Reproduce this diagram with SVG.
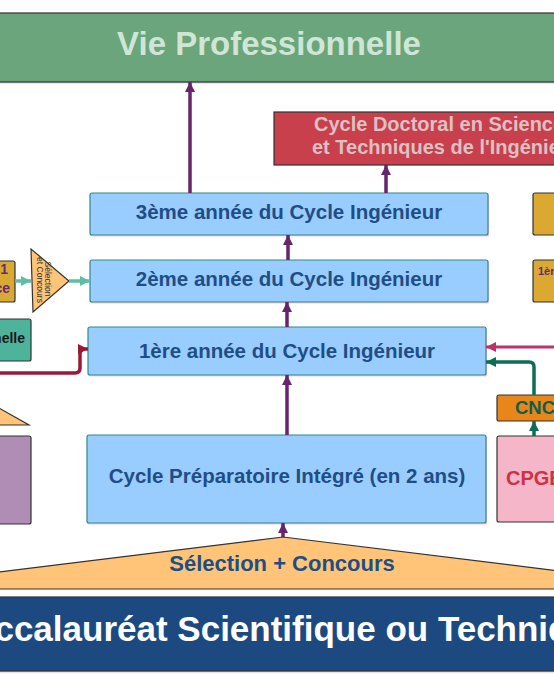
<svg xmlns="http://www.w3.org/2000/svg" width="554" height="674" viewBox="0 0 554 674">
<defs>
<style>
.t{font-family:"Liberation Sans",Arial,sans-serif;font-weight:bold}
.blue{fill:#99ccff;stroke:#2e8a87;stroke-width:1.2}
.shadow{fill:#eeaab2;opacity:.55}
.bt{fill:#1f4e85;font-size:20.5px;text-anchor:middle}
.edge{stroke:#333;stroke-width:1.2}
.pl{stroke:#66256b;stroke-width:3.5;fill:none}
</style>
<marker id="ap" viewBox="0 0 10 10" refX="10" refY="5" markerWidth="10" markerHeight="10" markerUnits="userSpaceOnUse" orient="auto"><path d="M0,0 L10,5 L0,10 z" fill="#66256b"/></marker>
<marker id="at" viewBox="0 0 10 10" refX="10" refY="5" markerWidth="10" markerHeight="10" markerUnits="userSpaceOnUse" orient="auto"><path d="M0,0 L10,5 L0,10 z" fill="#5bbfa6"/></marker>
<marker id="ar" viewBox="0 0 10 10" refX="10" refY="5" markerWidth="10" markerHeight="10" markerUnits="userSpaceOnUse" orient="auto"><path d="M0,0 L10,5 L0,10 z" fill="#9c1737"/></marker>
<marker id="ak" viewBox="0 0 10 10" refX="10" refY="5" markerWidth="10" markerHeight="10" markerUnits="userSpaceOnUse" orient="auto"><path d="M0,0 L10,5 L0,10 z" fill="#c0306b"/></marker>
<marker id="ag" viewBox="0 0 10 10" refX="10" refY="5" markerWidth="10" markerHeight="10" markerUnits="userSpaceOnUse" orient="auto"><path d="M0,0 L10,5 L0,10 z" fill="#0d6e55"/></marker>
</defs>
<rect width="554" height="674" fill="#ffffff"/>

<g id="vie-pro">
<rect x="-20" y="14.5" width="600" height="69" fill="#bcd8ee"/>
<rect x="-20" y="13" width="600" height="69" fill="#6aa57b" class="edge"/>
<text class="t" x="269" y="55" font-size="33" fill="#cfe6d6" text-anchor="middle">Vie Professionnelle</text>
</g>

<g id="doctoral">
<rect x="274" y="112" width="320" height="53" fill="#c8404b" class="edge"/>
<text class="t" x="314" y="131" font-size="20" fill="#dcc0c4">Cycle Doctoral en Sciences</text>
<text class="t" x="312" y="154" font-size="20" fill="#dcc0c4">et Techniques de l'Ingénieur</text>
</g>

<g id="annee3">
<rect x="91" y="194.5" width="398" height="42" class="shadow"/>
<rect x="90" y="193" width="398" height="42" rx="2" class="blue"/>
<text class="t bt" x="289" y="219">3ème année du Cycle Ingénieur</text>
</g>

<g id="annee2">
<rect x="91" y="261.5" width="398" height="42" class="shadow"/>
<rect x="90" y="260" width="398" height="42" rx="2" class="blue"/>
<text class="t bt" x="289" y="286">2ème année du Cycle Ingénieur</text>
</g>

<g id="annee1">
<rect x="89" y="328.5" width="398" height="48" class="shadow"/>
<rect x="88" y="327" width="398" height="48" rx="2" class="blue"/>
<text class="t bt" x="287" y="358">1ère année du Cycle Ingénieur</text>
</g>

<g id="prepa">
<rect x="88" y="436.5" width="399" height="88" class="shadow"/>
<rect x="87" y="435" width="399" height="88" rx="2" class="blue"/>
<text class="t bt" x="287" y="483">Cycle Préparatoire Intégré (en 2 ans)</text>
</g>

<g id="selection">
<polygon points="283,537 -140,589 706,589" fill="#ffc477" class="edge"/>
<text class="t" x="282" y="571" font-size="22" fill="#1f4e85" text-anchor="middle">Sélection + Concours</text>
</g>

<g id="bac">
<rect x="-20" y="598.5" width="600" height="74" fill="#f1b8c0"/>
<rect x="-20" y="597" width="600" height="74" fill="#1c4a80" class="edge"/>
<text class="t" x="280" y="641" font-size="35" fill="#ffffff" text-anchor="middle">Baccalauréat Scientifique ou Technique</text>
</g>

<g id="left-gold">
<rect x="-40" y="261" width="55" height="41" rx="2" fill="#d9a935" class="edge"/>
<text class="t" x="8" y="274" font-size="14" fill="#6a2a6b" text-anchor="end">1</text>
<text class="t" x="10" y="293" font-size="14" fill="#6a2a6b" text-anchor="end">ce</text>
</g>

<g id="left-selection">
<polygon points="31,249 33,312 69,281" fill="#ffc477" class="edge"/>
<text transform="translate(44.5,279) rotate(90)" font-family="Liberation Sans, Arial, sans-serif" font-size="8.5" fill="#333" text-anchor="middle">Sélection</text>
<text transform="translate(36.5,280) rotate(90)" font-family="Liberation Sans, Arial, sans-serif" font-size="8.5" fill="#333" text-anchor="middle">et Concours</text>
</g>

<g id="left-teal">
<rect x="-40" y="319" width="71" height="42" rx="2" fill="#4db39a" class="edge"/>
<text class="t" x="25" y="343" font-size="14" fill="#1a1a1a" text-anchor="end">nelle</text>
</g>

<g id="left-orange">
<polygon points="-40,386 29,425 -40,425" fill="#ffc477" class="edge"/>
</g>

<g id="left-purple">
<rect x="-40" y="436" width="71" height="88" rx="2" fill="#b08db5" class="edge"/>
</g>

<g id="right-gold1">
<rect x="533" y="193" width="60" height="42" rx="2" fill="#dba832" class="edge"/>
</g>

<g id="right-gold2">
<rect x="533" y="260" width="60" height="42" rx="2" fill="#dba832" class="edge"/>
<text class="t" x="538" y="275" font-size="11" fill="#6a2a6b">1ère</text>
</g>

<g id="cnc">
<rect x="497" y="395" width="80" height="26" rx="2" fill="#e8861a" class="edge"/>
<text class="t" x="515" y="414" font-size="18.5" fill="#0e5e50">CNC</text>
</g>

<g id="cpge">
<rect x="497" y="436" width="80" height="86" rx="2" fill="#f4b6c8" class="edge"/>
<text class="t" x="506" y="485" font-size="20" fill="#cc3344">CPGE</text>
</g>

<g id="connectors">
<line x1="283" y1="537" x2="283" y2="523" class="pl" marker-end="url(#ap)"/>
<line x1="287" y1="435" x2="287" y2="375" class="pl" marker-end="url(#ap)"/>
<line x1="287" y1="327" x2="287" y2="302" class="pl" marker-end="url(#ap)"/>
<line x1="288" y1="260" x2="288" y2="235" class="pl" marker-end="url(#ap)"/>
<line x1="190" y1="193" x2="190" y2="82" class="pl" marker-end="url(#ap)"/>
<line x1="386" y1="193" x2="386" y2="165" class="pl" marker-end="url(#ap)"/>
<line x1="15" y1="281" x2="31" y2="281" stroke="#5bbfa6" stroke-width="3.5" marker-end="url(#at)"/>
<line x1="69" y1="281" x2="90" y2="281" stroke="#5bbfa6" stroke-width="3.5" marker-end="url(#at)"/>
<path d="M-5,373 H75 Q80,373 80,368 V354 Q80,349 85,349 H88" fill="none" stroke="#9c1737" stroke-width="3.5" marker-end="url(#ar)"/>
<line x1="560" y1="347" x2="486" y2="347" stroke="#c0306b" stroke-width="3" marker-end="url(#ak)"/>
<path d="M534,395 V367 Q534,362 529,362 H486" fill="none" stroke="#0d6e55" stroke-width="3.5" marker-end="url(#ag)"/>
<line x1="534" y1="436" x2="534" y2="421" stroke="#0d6e55" stroke-width="3.5" marker-end="url(#ag)"/>
</g>
</svg>
